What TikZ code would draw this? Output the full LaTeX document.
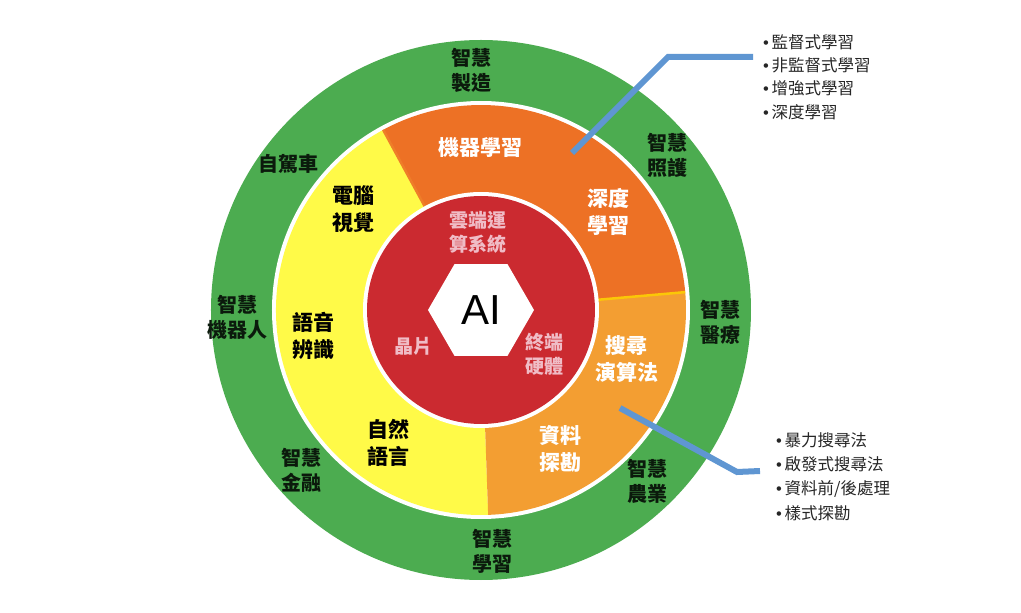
\documentclass[tikz,border=0pt]{standalone}
\usepackage{fontspec}
\setmainfont{Noto Sans CJK TC}
\newfontfamily\latinsf{Liberation Sans}
\usetikzlibrary{shapes.geometric}
\definecolor{ringgreen}{RGB}{76,172,80}
\definecolor{mlorange}{RGB}{237,113,37}
\definecolor{srorange}{RGB}{243,158,50}
\definecolor{cvyellow}{RGB}{255,250,72}
\definecolor{corered}{RGB}{203,42,48}
\definecolor{corepink}{RGB}{240,188,198}
\definecolor{calloutblue}{RGB}{95,150,210}

\begin{document}
\begin{tikzpicture}[x=1pt,y=1pt,
    lbl/.style={align=center,inner sep=0,font=\fontsize{20}{25}\selectfont\bfseries},
    outer/.style={lbl,text=black!85!ringgreen},
    dark/.style={lbl,text=black,font=\fontsize{21}{27}\selectfont\bfseries},
    light/.style={lbl,text=white,font=\fontsize{21}{27}\selectfont\bfseries},
    core/.style={lbl,text=corepink,font=\fontsize{19}{24}\selectfont\bfseries},
    item/.style={anchor=west,inner sep=0,text=black!85,font=\fontsize{16.5}{16.5}\selectfont},
    callout/.style={calloutblue,line width=6pt}]
  \useasboundingbox (-481,-303) rectangle (540,310);
  \fill[ringgreen] (0,0) circle (270);
  \fill[white] (0,0) circle (209);
  \fill[cvyellow] (0,0) -- (118.5:205) arc[start angle=118.5,end angle=272,radius=205] -- cycle;
  \fill[mlorange] (0,0) -- (5:205) arc[start angle=5,end angle=118.5,radius=205] -- cycle;
  \fill[srorange] (0,0) -- (-88:205) arc[start angle=-88,end angle=5,radius=205] -- cycle;
  \draw[line width=2.5pt,yellow!60!orange] (0,0) -- (5:205);
  \draw[line width=2.5pt,mlorange!70!srorange] (0,0) -- (118.5:205);
  \fill[white] (0,0) circle (118);
  \fill[corered] (0,0) circle (114);
  \node[regular polygon,regular polygon sides=6,fill=white,minimum size=106pt,inner sep=0] (hex) at (0,0) {};
  \node[font=\latinsf\fontsize{42}{42}\selectfont] (ai) at (hex) {AI};

  \node[core] (cloud) at (-3,77.5) {雲端運\\算系統};
  \node[core] (chip) at (-67,-36) {晶片};
  \node[core] (edge) at (64,-44) {終端\\硬體};

  \node[light] (ml) at (0,162) {機器學習};
  \node[light] (dl) at (128,98.5) {深度\\學習};
  \node[light] (search) at (146,-49.5) {搜尋\\演算法};
  \node[light] (mining) at (80,-138.5) {資料\\探勘};
  \node[dark] (cv) at (-127,100.5) {電腦\\視覺};
  \node[dark] (speech) at (-167,-25.5) {語音\\辨識};
  \node[dark] (nlp) at (-92,-132.5) {自然\\語言};

  \node[outer] (make) at (-9,239.5) {智慧\\製造};
  \node[outer] (car) at (-192,146) {自駕車};
  \node[outer] (care) at (187,155) {智慧\\照護};
  \node[outer] (robot) at (-243,-7.5) {智慧\\機器人};
  \node[outer] (med) at (240,-12.5) {智慧\\醫療};
  \node[outer] (fin) at (-179,-160.5) {智慧\\金融};
  \node[outer] (agri) at (167,-171.5) {智慧\\農業};
  \node[outer] (edu) at (12,-241.5) {智慧\\學習};

  \foreach \t [count=\i] in {監督式學習,非監督式學習,增強式學習,深度學習}
    \node[item] (mlitem\i) at (282,291.3-23.3*\i) {{\latinsf•}\,\t};
  \foreach \t [count=\i] in {暴力搜尋法,啟發式搜尋法,資料前/後處理,樣式探勘}
    \node[item] (sritem\i) at (295,-106-24.3*\i) {{\latinsf•}\,\t};

  \coordinate (mlpt) at (91,157);
  \coordinate (mlbend) at (187,253);
  \coordinate (mlend) at (272,253);
  \coordinate (srpt) at (139,-98);
  \coordinate (srbend) at (256,-162);
  \coordinate (srend) at (279,-161);
  \draw[callout] (mlpt) -- (mlbend) -- (mlend);
  \draw[callout] (srpt) -- (srbend) -- (srend);
\end{tikzpicture}
\end{document}
